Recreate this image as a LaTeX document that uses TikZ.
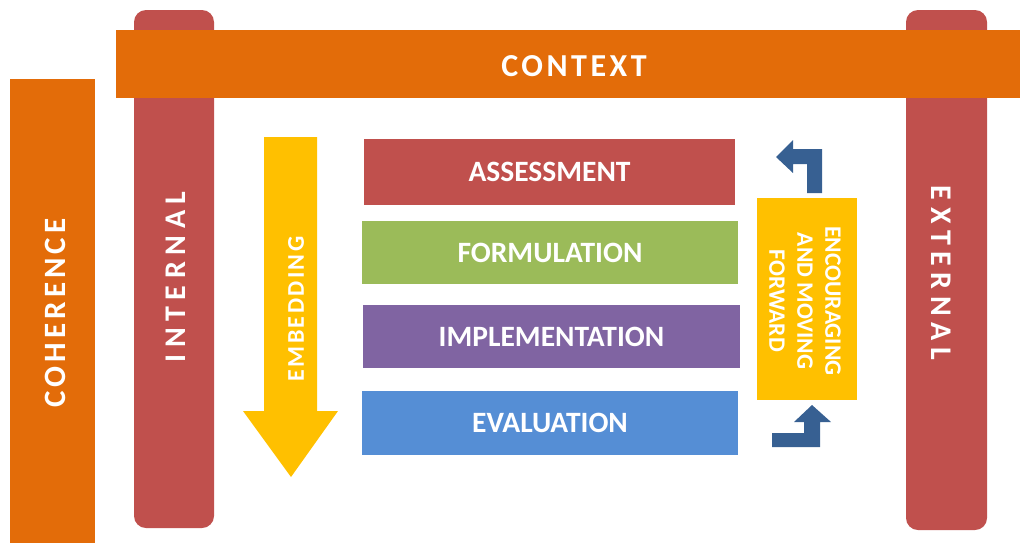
\documentclass[tikz,border=0pt]{standalone}
\usepackage{fontspec}
\setmainfont{Carlito}
\newfontfamily\wideA[LetterSpace=11]{Carlito}
\newfontfamily\wideB[LetterSpace=22]{Carlito}
\newfontfamily\wideC[LetterSpace=13]{Carlito}
\newfontfamily\wideD[LetterSpace=10]{Carlito}
\definecolor{corange}{RGB}{227,108,9}
\definecolor{cred}{RGB}{192,80,77}
\definecolor{cgreen}{RGB}{155,187,89}
\definecolor{cpurple}{RGB}{128,100,162}
\definecolor{cblue}{RGB}{85,142,213}
\definecolor{cyellow}{RGB}{255,192,0}
\definecolor{cdark}{RGB}{55,96,146}
\begin{document}
\begin{tikzpicture}[x=1pt,y=-1pt,
  shape block/.style={inner sep=0pt, outer sep=0pt, draw=none, fill=#1},
  label text/.style={text=white, inner sep=0pt, font=\bfseries\fontsize{29.5}{31}\selectfont},
  step block/.style={shape block=#1, label text}]
\useasboundingbox (0,0) rectangle (1020,542);
% coherence bar
\node[shape block=corange, minimum width=85, minimum height=470] (coh) at (52.5,314) {};
\node[text=white, rotate=90, font=\wideC\bfseries\fontsize{31}{33}\selectfont] (cohT) at (55.5,313) {COHERENCE};
% pillars
\node[shape block=cred, rounded corners=12, minimum width=80, minimum height=518] (inP) at (174,269) {};
\node[shape block=cred, rounded corners=12, minimum width=81, minimum height=520] (exP) at (946.5,270) {};
% context bar
\node[shape block=corange, minimum width=914, minimum height=68] (ctx) at (573,64) {};
\node[text=white, font=\wideA\bfseries\fontsize{32}{34}\selectfont] (ctxT) at (574,66) {CONTEXT};
\node[text=white, rotate=90, font=\wideB\bfseries\fontsize{30}{32}\selectfont] (inT) at (175.5,277) {INTERNAL};
\node[text=white, rotate=-90, font=\wideB\bfseries\fontsize{30}{32}\selectfont] (exT) at (941,273) {EXTERNAL};
% embedding arrow
\fill[cyellow] (264,137) -- (317,137) -- (317,411) -- (338,411) -- (291,477) -- (243,411) -- (264,411) -- cycle;
\node[text=white, rotate=90, font=\wideD\bfseries\fontsize{24}{26}\selectfont] (embT) at (296,309) {EMBEDDING};
% steps
\node[step block=cred, minimum width=371, minimum height=66] (ass) at (549.5,172) {ASSESSMENT};
\node[step block=cgreen, minimum width=376, minimum height=63] (form) at (550,252.5) {FORMULATION};
\node[step block=cpurple, minimum width=377, minimum height=63] (impl) at (551.5,336.5) {IMPLEMENTATION};
\node[step block=cblue, minimum width=376, minimum height=64] (eval) at (550,423) {EVALUATION};
% encouraging box
\node[shape block=cyellow, minimum width=100, minimum height=202] (enc) at (807,299) {};
\node[text=white, rotate=-90, align=center, inner sep=0pt, font=\bfseries\fontsize{23.5}{28}\selectfont] (encT) at (805,301) {ENCOURAGING\\AND MOVING\\FORWARD};
% blue bent arrows
\fill[cdark] (807,193) -- (807,164) -- (793,164) -- (793,173) -- (776,157) -- (793,140) -- (793,149) -- (822,149) -- (822,193) -- cycle;
\fill[cdark] (772,433) -- (804,433) -- (804,422) -- (794,422) -- (812,405) -- (831,422) -- (820,422) -- (820,447) -- (772,447) -- cycle;
\end{tikzpicture}
\end{document}
